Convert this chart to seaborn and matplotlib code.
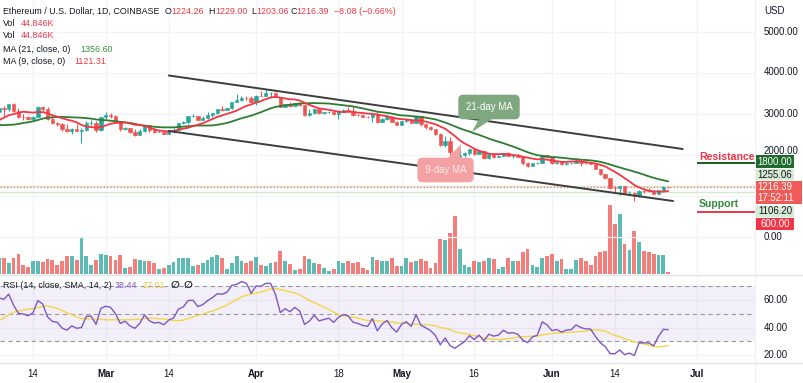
import numpy as np
import pandas as pd
import matplotlib
matplotlib.use('Agg')
import matplotlib.pyplot as plt
import matplotlib.dates as mdates
from matplotlib.patches import Rectangle, Polygon
from matplotlib.lines import Line2D
import seaborn as sns

# daily closes, 2022-01-01 .. 2022-06-25 (ETH/USD, Coinbase)
close_jan = [3765, 3830, 3765, 3790, 3545, 3425, 3195, 3085, 3160, 3085, 3240, 3375, 3250, 3310, 3330, 3350,
             3212, 3164, 3095, 2990, 2560, 2405, 2540, 2440, 2465, 2465, 2425, 2550, 2600, 2605, 2690]
close_feb = [2792, 2679, 2662, 2990, 3020, 3060, 3143, 3123, 3241, 3074, 2930, 2916, 2885, 2935, 3180, 3125,
             2885, 2785, 2765, 2630, 2578, 2645, 2590, 2600, 2775, 2780, 2620, 2920]
close_mar = [2970, 2950, 2835, 2625, 2665, 2555, 2495, 2575, 2730, 2605, 2555, 2565, 2515, 2590, 2620, 2775,
             2815, 2945, 2950, 2860, 2895, 2970, 3030, 3110, 3105, 3145, 3300, 3330, 3400, 3385, 3283]
close_apr = [3450, 3445, 3520, 3520, 3410, 3170, 3235, 3190, 3260, 3210, 2980, 3030, 3120, 3020, 3040, 3060,
             2990, 3060, 3100, 3080, 2985, 2965, 2935, 2920, 3005, 2810, 2890, 2935, 2815, 2730]
close_may = [2825, 2860, 2780, 2940, 2750, 2695, 2635, 2520, 2245, 2340, 2075, 1960, 2010, 2055, 2145, 2025,
             2090, 1915, 2015, 1960, 1975, 2045, 1975, 1980, 1945, 1800, 1725, 1795, 1815, 1995, 1940]
close_jun = [1815, 1830, 1775, 1800, 1805, 1860, 1815, 1795, 1790, 1665, 1530, 1435, 1205, 1198, 1235, 1070,
             1085, 995, 1127, 1124, 1122, 1050, 1145, 1224.47, 1216.39]

# highs / lows / volume (K) for the visible candles, 2022-02-07 .. 2022-06-25
high_vis = [3190, 3190, 3255, 3280, 3140, 2990, 2955, 2955, 3190, 3190, 3160, 2935, 2800, 2770, 2750, 2665,
            2760, 2650, 2840, 2850, 2835, 2935,
            3040, 3015, 2980, 2840, 2680, 2670, 2630, 2630, 2765, 2730, 2660, 2600, 2590, 2600, 2650, 2790,
            2835, 2950, 2990, 2960, 2945, 3040, 3035, 3120, 3185, 3150, 3300, 3480, 3440, 3440, 3445,
            3470, 3555, 3580, 3525, 3545, 3415, 3255, 3295, 3265, 3300, 3220, 3110, 3140, 3130, 3060, 3080,
            3070, 3065, 3130, 3170, 3190, 3010, 2980, 2955, 3020, 3040, 2910, 2985, 2950, 2840,
            2840, 2895, 2880, 2955, 2950, 2760, 2705, 2640, 2525, 2455, 2450, 2085, 2150, 2075, 2155, 2145,
            2115, 2100, 2035, 2050, 1990, 2055, 2085, 2010, 2020, 1960, 1820, 1810, 1830, 2010, 2000,
            1975, 1840, 1840, 1810, 1820, 1915, 1865, 1840, 1820, 1790, 1665, 1540, 1440, 1245, 1245, 1240,
            1115, 1090, 1140, 1160, 1185, 1135, 1150, 1235, 1229.00]
low_vis = [3020, 2960, 3085, 3060, 2900, 2860, 2855, 2830, 2930, 3080, 2860, 2760, 2710, 2580, 2560, 2500,
           2585, 2300, 2575, 2735, 2570, 2580,
           2890, 2900, 2800, 2590, 2600, 2545, 2460, 2480, 2570, 2560, 2545, 2550, 2505, 2500, 2540, 2610,
           2745, 2750, 2925, 2850, 2850, 2885, 2935, 3000, 3080, 3090, 3130, 3290, 3320, 3340, 3270,
           3210, 3440, 3435, 3400, 3405, 3160, 3160, 3180, 3190, 3200, 2960, 2950, 3010, 3000, 3010, 3030,
           2985, 2890, 3040, 3060, 2950, 2940, 2930, 2910, 2800, 2790, 2800, 2860, 2800, 2725,
           2720, 2795, 2770, 2780, 2700, 2640, 2610, 2480, 2220, 2190, 2010, 1700, 1950, 1955, 2000, 1990,
           2015, 1910, 1905, 1925, 1950, 1970, 1965, 1935, 1940, 1755, 1710, 1720, 1780, 1810, 1920,
           1780, 1775, 1750, 1765, 1780, 1800, 1725, 1780, 1780, 1655, 1510, 1410, 1170, 1080, 1015, 1065,
           1065, 880, 975, 1070, 1105, 1045, 1050, 1125, 1203.06]
volume_k = [320, 320, 220, 320, 400, 180, 140, 260, 260, 240, 300, 280, 180, 260, 360, 360, 280, 720, 360, 180,
            280, 400,
            380, 360, 280, 380, 120, 140, 300, 280, 260, 260, 220, 100, 120, 180, 240, 320, 320, 320, 160, 180,
            220, 280, 340, 380, 320, 100, 220, 360, 260, 220, 260,
            340, 180, 160, 220, 240, 460, 260, 200, 80, 100, 360, 300, 220, 200, 120, 60, 100, 260, 220, 260,
            220, 240, 120, 80, 340, 280, 266, 254, 306, 154,
            154, 306, 234, 266, 286, 266, 120, 214, 686, 666, 806, 1146, 486, 186, 146, 266, 240, 266, 306, 286,
            100, 134, 306, 254, 254, 426, 500, 174, 134, 320, 346,
            400, 254, 286, 106, 106, 274, 320, 254, 186, 346, 426, 454, 1360, 986, 1174, 600, 474, 840, 626, 454,
            440, 400, 374, 374, 44.846]

# drawings
channel_dates = ['2022-03-14', '2022-06-28']
channel_upper = [3939, 2146]
channel_lower_dates = ['2022-03-14', '2022-06-26']
channel_lower = [2585, 878]
resistance, support = 1800.00, 600.00
level_start = '2022-07-01'
hlines_green = [1255.06, 1106.20]
last_price = 1216.39

price_ticks = [0, 1000, 2000, 3000, 4000, 5000]
tick_dates = ['2022-02-14', '2022-03-01', '2022-03-14', '2022-04-01', '2022-04-18', '2022-05-01',
              '2022-05-16', '2022-06-01', '2022-06-14', '2022-07-01']
tick_labels = ['14', 'Mar', '14', 'Apr', '18', 'May', '16', 'Jun', '14', 'Jul']

W, H = 804, 383
def fx(x): return x / W
def fy(y): return 1 - y / H

sns.set_theme(style='white')
plt.rcParams['font.family'] = ['Liberation Sans', 'DejaVu Sans']

dates = pd.date_range('2022-01-01', '2022-06-25')
df = pd.DataFrame({'date': dates,
                   'close': close_jan + close_feb + close_mar + close_apr + close_may + close_jun})
df['xn'] = mdates.date2num(df['date'])
df['open'] = df['close'].shift(1)
df['ma9'] = df['close'].rolling(9).mean()
df['ma21'] = df['close'].rolling(21).mean()
delta = df['close'].diff()
up = delta.clip(lower=0).ewm(alpha=1 / 14, adjust=False).mean()
dn = (-delta.clip(upper=0)).ewm(alpha=1 / 14, adjust=False).mean()
df['rsi'] = 100 - 100 / (1 + up / dn)
df['rsi_ma'] = df['rsi'].rolling(14).mean()

vis = df[df['date'] >= '2022-02-07'].copy()
vis['high'] = high_vis
vis['low'] = low_vis
vis['volume'] = volume_k

TEAL, RED = '#26a69a', '#ef5350'
cols = np.where(vis['close'] >= vis['open'], TEAL, RED)

fig = plt.figure(figsize=(8.04, 3.83), dpi=100)
rect = [0, fy(274), fx(755), 274 / H]
axv = fig.add_axes(rect)
ax = fig.add_axes(rect, sharex=axv)
ax.patch.set_alpha(0)
axr = fig.add_axes([0, fy(362), fx(755), 87 / H], sharex=axv)

base = mdates.date2num(pd.Timestamp('2022-02-14'))
axv.set_xlim(base - 6.8, base + 148.9)
ax.set_ylim(-902, 5780)
axv.set_ylim(0, 1360 * 274 / 69)
axr.set_ylim(14.9, 78.2)

tx = mdates.date2num(pd.to_datetime(tick_dates))
for a in (axv, axr):
    for t in tx:
        a.axvline(t, color='#f0f3fa', lw=0.9, zorder=0)
for p in price_ticks:
    ax.axhline(p, color='#f0f3fa', lw=0.9, zorder=0)
for r in (20, 40, 60):
    axr.axhline(r, color='#f0f3fa', lw=0.9, zorder=0)

# volume (two identical Vol overlays)
axv.bar(vis['xn'], vis['volume'], width=0.78, color=cols, alpha=0.75, linewidth=0, zorder=2)

# horizontal levels
for lv in hlines_green:
    ax.axhline(lv, color='#d3e8cf', lw=1.0, zorder=1)
ax.axhline(last_price, color=RED, lw=0.8, ls=(0, (1, 2)), zorder=1)

# trend channel
ax.plot(mdates.date2num(pd.to_datetime(channel_dates)), channel_upper, color='#3d3d3d', lw=1.4, zorder=6)
ax.plot(mdates.date2num(pd.to_datetime(channel_lower_dates)), channel_lower, color='#3d3d3d', lw=1.4, zorder=6)

# candles
ax.vlines(vis['xn'], vis['low'], vis['high'], colors=cols, lw=0.8, zorder=3)
ax.bar(vis['xn'], vis['close'] - vis['open'], bottom=vis['open'], width=0.7, color=cols,
       edgecolor=cols, linewidth=0.4, zorder=4)

# moving averages
sns.lineplot(data=df, x='xn', y='ma21', ax=ax, color='#2e7d32', lw=1.3, zorder=5)
sns.lineplot(data=df, x='xn', y='ma9', ax=ax, color='#f23645', lw=1.3, zorder=5)

# support / resistance
x0 = mdates.date2num(pd.Timestamp(level_start))
x1 = base + 148.9
ax.hlines(resistance, x0, x1, color='#1b5e20', lw=1.4, zorder=6)
ax.hlines(support, x0, x1, color='#f23645', lw=1.4, zorder=6)

# RSI
axr.axhspan(30, 70, color='#7e57c2', alpha=0.09, lw=0, zorder=0)
for lv in (70, 50, 30):
    axr.axhline(lv, color='#9598a1', lw=0.8, ls=(0, (4, 3)), zorder=1)
sns.lineplot(data=vis, x='xn', y='rsi_ma', ax=axr, color='#f5d547', lw=1.0, zorder=3)
sns.lineplot(data=vis, x='xn', y='rsi', ax=axr, color='#7e57c2', lw=1.0, zorder=4)

for a in (axv, ax, axr):
    for s in a.spines.values():
        s.set_visible(False)
    a.set_yticks([])
    a.set_xlabel('')
    a.set_ylabel('')
    a.grid(False)
for a in (axv, ax):
    a.tick_params(axis='x', bottom=False, labelbottom=False)
axr.set_xticks(tx)
axr.set_xticklabels(tick_labels)
axr.tick_params(axis='x', length=0, pad=5, labelsize=7, colors='#131722')
for lab in axr.get_xticklabels():
    if lab.get_text().isalpha():
        lab.set_fontweight('bold')

# separators
fig.add_artist(Line2D([0, 1], [fy(274.5)] * 2, color='#e0e3eb', lw=1))
fig.add_artist(Line2D([0, 1], [fy(362.5)] * 2, color='#e0e3eb', lw=1))
fig.add_artist(Line2D([fx(755.5)] * 2, [0, 1], color='#eef0f4', lw=0.8))

# legend texts
DARK, TXTRED, TXTGREEN = '#131722', '#f23645', '#388e3c'
fs = 6.4
def t(x, y, s, c=DARK, **kw):
    fig.text(fx(x), fy(y), s, color=c, fontsize=kw.pop('size', fs), ha=kw.pop('ha', 'left'), va='center', **kw)

t(3, 11, 'Ethereum / U.S. Dollar, 1D, COINBASE')
t(165, 11, 'O'); t(171, 11, '1224.26', TXTRED)
t(208, 11, 'H'); t(215, 11, '1229.00', TXTRED)
t(251, 11, 'L'); t(256, 11, '1203.06', TXTRED)
t(291, 11, 'C'); t(296, 11, '1216.39', TXTRED)
t(334, 11, '\u22128.08 (\u22120.66%)', TXTRED)
t(3, 24, 'Vol'); t(21, 24, '44.846K', TXTRED)
t(3, 36, 'Vol'); t(21, 36, '44.846K', TXTRED)
t(3, 49, 'MA (21, close, 0)'); t(80, 49, '1356.60', TXTGREEN)
t(3, 62, 'MA (9, close, 0)'); t(74, 62, '1121.31', TXTRED)
t(3, 285, 'RSI (14, close, SMA, 14, 2)')
t(115, 285, '38.44', '#7e57c2'); t(143, 285, '27.01', '#e8c832')
t(171, 285, '\u2205', DARK, family='DejaVu Sans', size=7.5, fontweight='bold')
t(184, 285, '\u2205', DARK, family='DejaVu Sans', size=7.5, fontweight='bold')

# price scale
ps = 6.9
t(764, 11, 'USD', size=ps)
for y, s in [(32, '5000.00'), (72, '4000.00'), (114, '3000.00'), (151, '2000.00'), (237, '0.00')]:
    t(764, y, s, size=ps)
for y, s in [(300, '60.00'), (328, '40.00'), (355, '20.00')]:
    t(764, y, s, size=ps)

def box(x0_, y0_, x1_, y1_, fc):
    fig.add_artist(Rectangle((fx(x0_), fy(y1_)), fx(x1_) - fx(x0_), fy(y0_) - fy(y1_),
                             transform=fig.transFigure, facecolor=fc, edgecolor='none', zorder=5))

box(756, 155, 794, 168, '#1e6b2b'); t(775, 162, '1800.00', 'white', size=ps, ha='center', zorder=6)
box(756, 169, 794, 180, '#d7ebd4'); t(775, 174.5, '1255.06', DARK, size=ps, ha='center', zorder=6)
box(756, 181, 802, 204, '#f05b57')
t(775, 187, '1216.39', 'white', size=ps, ha='center', zorder=6)
t(776, 198, '17:52:11', 'white', size=ps, ha='center', zorder=6)
box(756, 205.5, 794, 216.5, '#d7ebd4'); t(775, 211, '1106.20', DARK, size=ps, ha='center', zorder=6)
box(756, 218, 794, 230.5, '#f23645'); t(775, 224, '600.00', 'white', size=ps, ha='center', zorder=6)

t(699, 156.5, 'Resistance', '#f23645', size=7.6, fontweight='bold')
t(699, 203.5, 'Support', '#2e8b3a', size=7.6, fontweight='bold')

# callouts
g_fc, r_fc = '#80a880', '#f4a1a4'
fig.add_artist(Polygon([(fx(480), fy(117)), (fx(495), fy(117)), (fx(472), fy(132))],
                       closed=True, transform=fig.transFigure, facecolor=g_fc, edgecolor='none'))
fig.text(fx(489), fy(107), '21-day MA', color='white', fontsize=7, ha='center', va='center',
         bbox=dict(boxstyle='round,pad=0.75,rounding_size=0.5', fc=g_fc, ec='none'))
fig.add_artist(Polygon([(fx(446), fy(160)), (fx(460), fy(160)), (fx(461), fy(144))],
                       closed=True, transform=fig.transFigure, facecolor=r_fc, edgecolor='none'))
fig.text(fx(445.5), fy(170), '9-day MA', color='#fdeaea', fontsize=7, ha='center', va='center',
         bbox=dict(boxstyle='round,pad=0.75,rounding_size=0.5', fc=r_fc, ec='none'))

fig.savefig('out.png', dpi=100)
